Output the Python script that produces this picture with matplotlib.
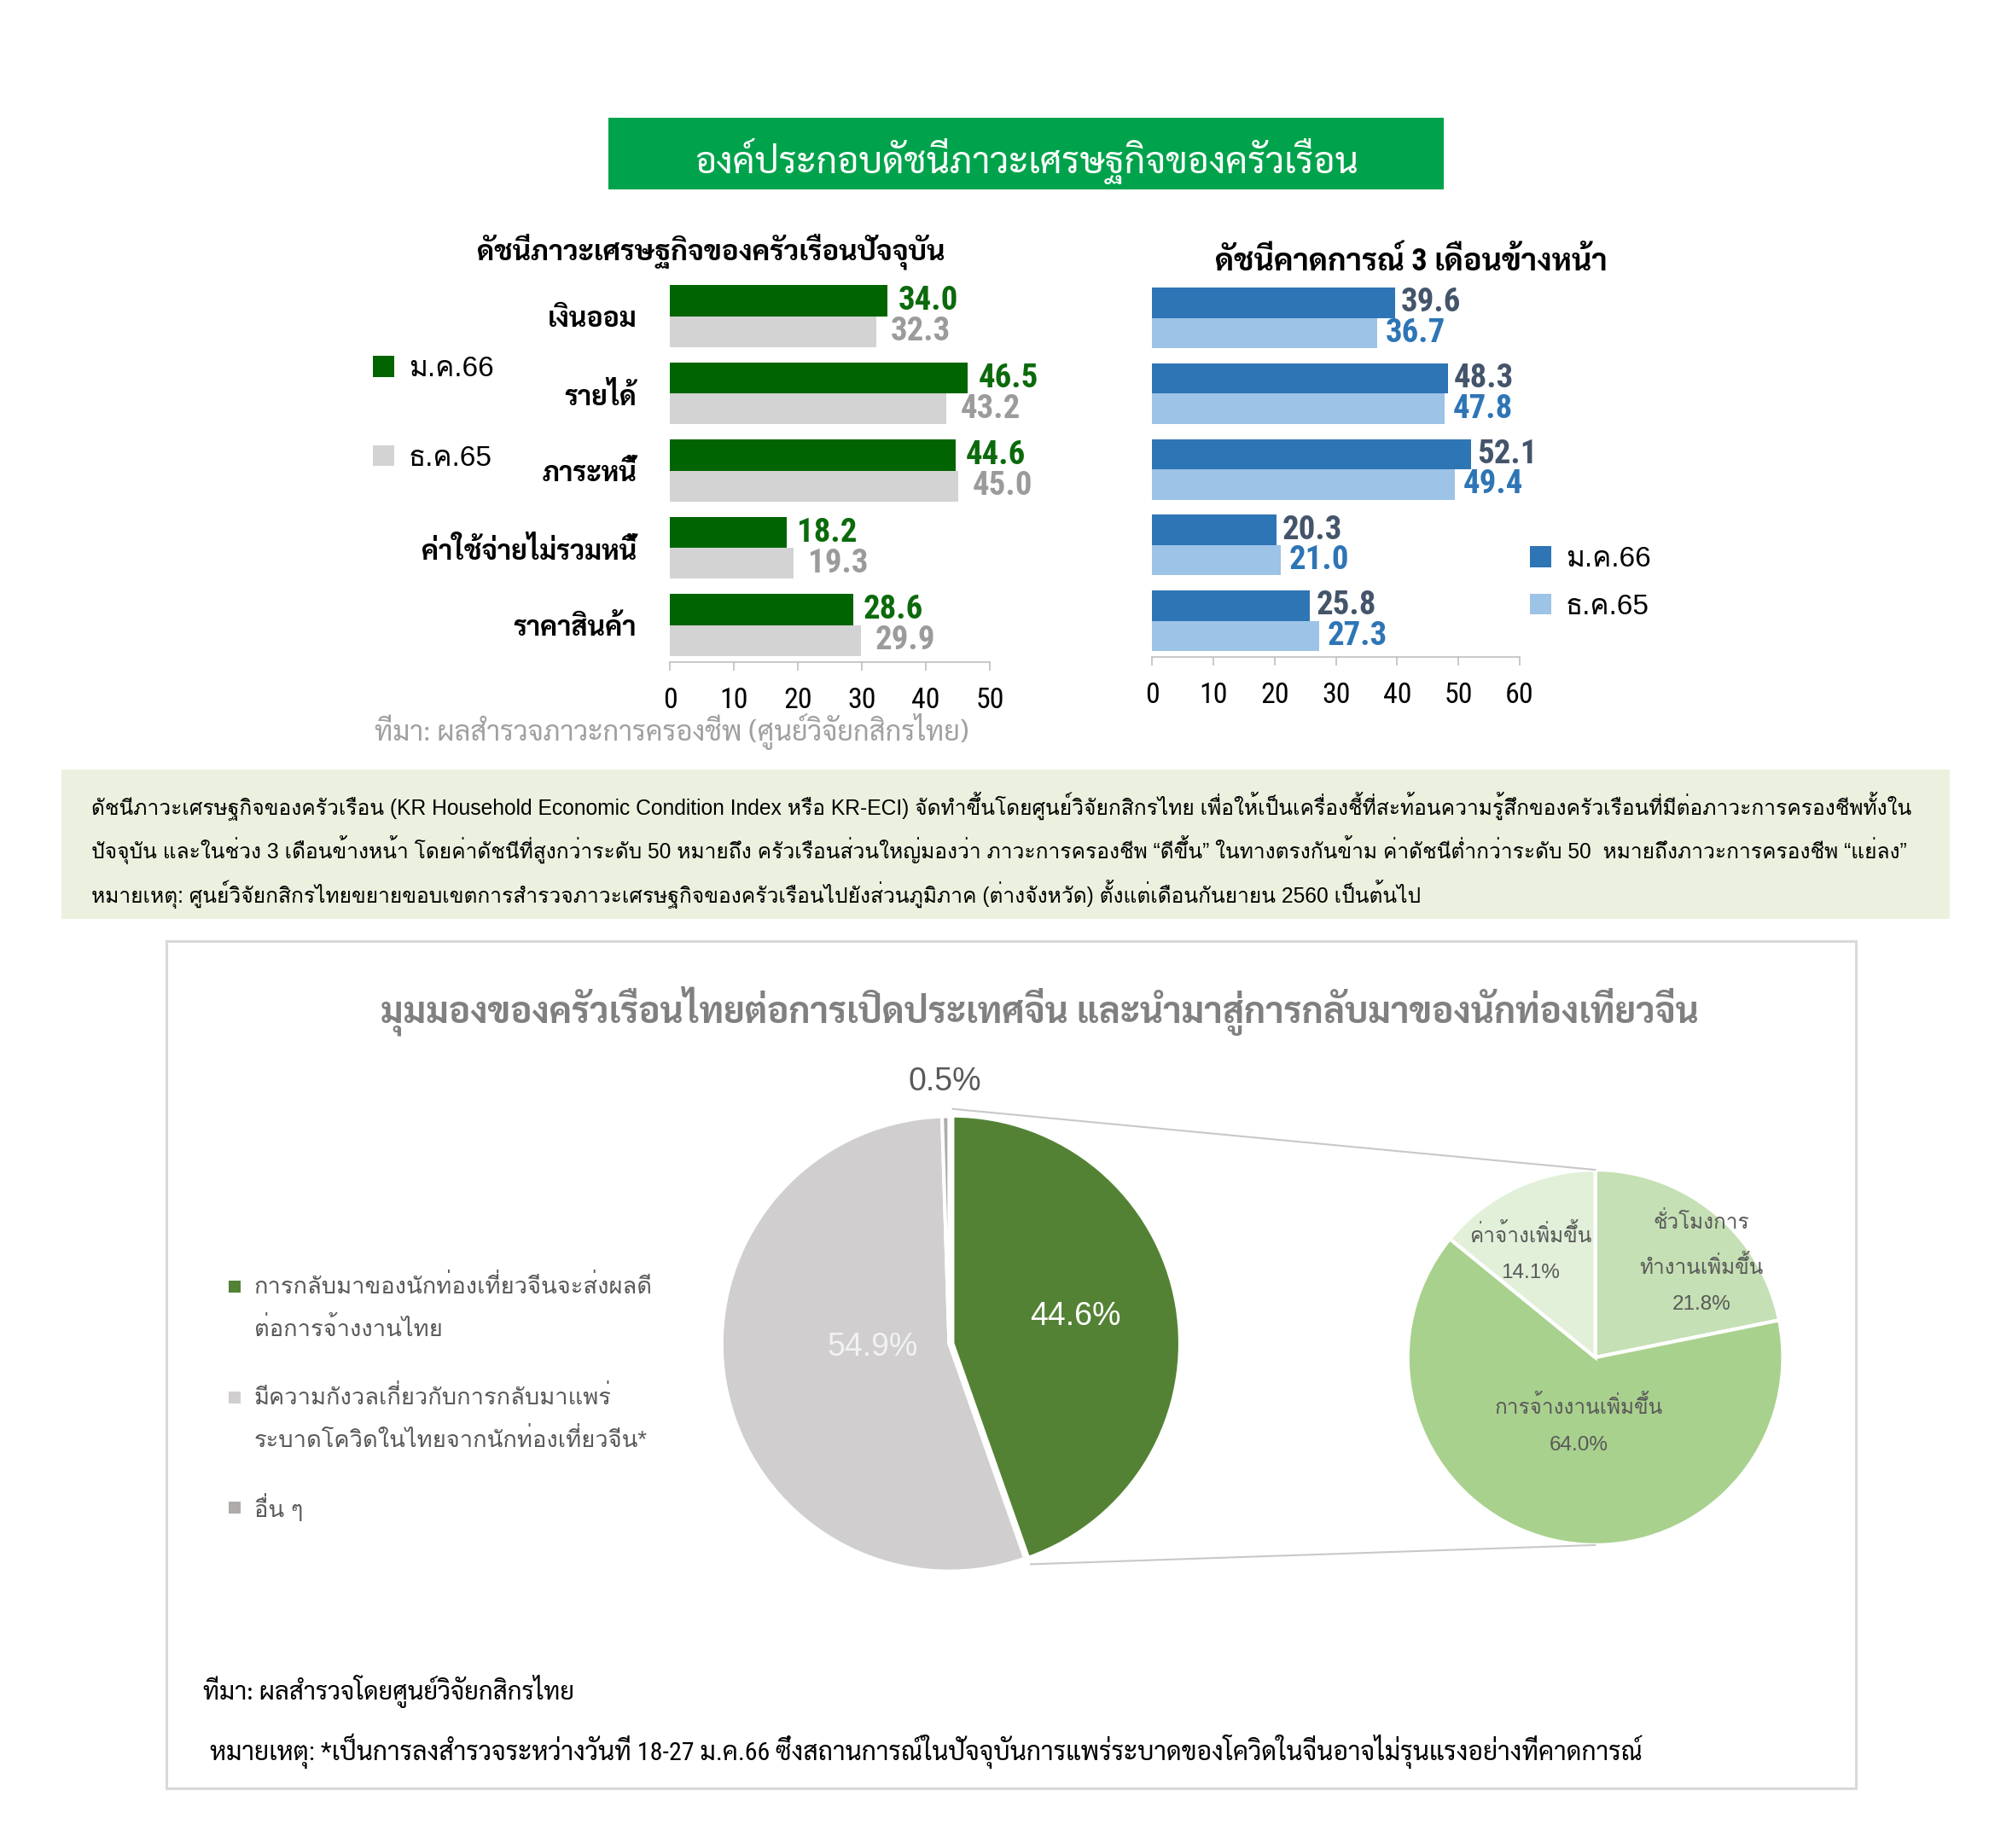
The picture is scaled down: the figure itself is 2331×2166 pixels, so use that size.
import matplotlib
matplotlib.use("Agg")
import matplotlib.pyplot as plt
from matplotlib.patches import Rectangle, ConnectionPatch
import numpy as np

# ---- data -------------------------------------------------------------
CATS = ["เงินออม", "รายได้", "ภาระหนี้", "ค่าใช้จ่ายไม่รวมหนี้", "ราคาสินค้า"]
SERIES = ["ม.ค.66", "ธ.ค.65"]
CUR_JAN66 = [34.0, 46.5, 44.6, 18.2, 28.6]
CUR_DEC65 = [32.3, 43.2, 45.0, 19.3, 29.9]
EXP_JAN66 = [39.6, 48.3, 52.1, 20.3, 25.8]
EXP_DEC65 = [36.7, 47.8, 49.4, 21.0, 27.3]
CUR_TICKS = [0, 10, 20, 30, 40, 50]
EXP_TICKS = [0, 10, 20, 30, 40, 50, 60]

VIEW_LABELS = ["การกลับมาของนักท่องเที่ยวจีนจะส่งผลดี\nต่อการจ้างงานไทย",
               "มีความกังวลเกี่ยวกับการกลับมาแพร่\nระบาดโควิดในไทยจากนักท่องเที่ยวจีน*",
               "อื่น ๆ"]
VIEW_SHARE = [44.6, 54.9, 0.5]
EFFECT_LABELS = ["ชั่วโมงการ\nทำงานเพิ่มขึ้น", "การจ้างงานเพิ่มขึ้น", "ค่าจ้างเพิ่มขึ้น"]
EFFECT_SHARE = [21.8, 64.0, 14.1]

TITLE = "องค์ประกอบดัชนีภาวะเศรษฐกิจของครัวเรือน"
CUR_TITLE = "ดัชนีภาวะเศรษฐกิจของครัวเรือนปัจจุบัน"
EXP_TITLE = "ดัชนีคาดการณ์ 3 เดือนข้างหน้า"
SOURCE_TOP = "ที่มา: ผลสำรวจภาวะการครองชีพ (ศูนย์วิจัยกสิกรไทย)"
NOTE_LINES = [
    "ดัชนีภาวะเศรษฐกิจของครัวเรือน (KR Household Economic Condition Index หรือ KR-ECI) จัดทำขึ้นโดยศูนย์วิจัยกสิกรไทย เพื่อให้เป็นเครื่องชี้ที่สะท้อนความรู้สึกของครัวเรือนที่มีต่อภาวะการครองชีพทั้งใน",
    "ปัจจุบัน และในช่วง 3 เดือนข้างหน้า โดยค่าดัชนีที่สูงกว่าระดับ 50 หมายถึง ครัวเรือนส่วนใหญ่มองว่า ภาวะการครองชีพ “ดีขึ้น” ในทางตรงกันข้าม ค่าดัชนีต่ำกว่าระดับ 50  หมายถึงภาวะการครองชีพ “แย่ลง”",
    "หมายเหตุ: ศูนย์วิจัยกสิกรไทยขยายขอบเขตการสำรวจภาวะเศรษฐกิจของครัวเรือนไปยังส่วนภูมิภาค (ต่างจังหวัด) ตั้งแต่เดือนกันยายน 2560 เป็นต้นไป",
]
PIE_TITLE = "มุมมองของครัวเรือนไทยต่อการเปิดประเทศจีน และนำมาสู่การกลับมาของนักท่องเที่ยวจีน"
SOURCE_BOTTOM = "ที่มา: ผลสำรวจโดยศูนย์วิจัยกสิกรไทย"
NOTE_BOTTOM = ("หมายเหตุ: *เป็นการลงสำรวจระหว่างวันที่ 18-27 ม.ค.66 "
               "ซึ่งสถานการณ์ในปัจจุบันการแพร่ระบาดของโควิดในจีนอาจไม่รุนแรงอย่างที่คาดการณ์")

# ---- style ------------------------------------------------------------
W, H, DPI = 2331, 2166, 100
S = 0.995                      # layout was measured on a slightly scaled view
COND = ["Liberation Sans Narrow", "Roboto Condensed", "Sarabun",
        "Noto Sans Thai Looped", "Loma", "DejaVu Sans"]
THAI = ["Sarabun", "Noto Sans Thai Looped", "Loma", "DejaVu Sans"]
UI = ["Liberation Sans", "Loma", "DejaVu Sans"]

BANNER = "#00a34b"
GREEN, GREEN_LBL, GREY_BAR, GREY_LBL = "#006400", "#0b6a0b", "#d3d3d3", "#9b9b9b"
BLUE, BLUE_LT, BLUE_LBL, SLATE_LBL = "#2e75b6", "#9dc3e6", "#2e75b6", "#44546a"
AXIS = "#bfbfbf"
NOTE_BG = "#ebf1de"
PANEL = "#d9d9d9"
VIEW_COLORS = ["#548235", "#d0cece", "#afabab"]
EFFECT_COLORS = ["#c5e0b4", "#a9d18e", "#e2f0d9"]
DARK_TXT = "#595959"


def fx(x):
    return x * S / W


def fy(y):
    return 1 - y * S / H


def box(x0, y0, x1, y1):
    """Pixel box (top-left origin) -> figure fraction rect."""
    return [fx(x0), fy(y1), fx(x1) - fx(x0), fy(y0) - fy(y1)]


def fig_rect(x0, y0, x1, y1, **kw):
    l, b, w, h = box(x0, y0, x1, y1)
    fig.patches.append(Rectangle((l, b), w, h, transform=fig.transFigure, **kw))


fig = plt.figure(figsize=(W / DPI, H / DPI), dpi=DPI, facecolor="white")


def index_bars(rect, ticks, jan, dec, colors, lbl_colors, pads, show_cats):
    ax = fig.add_axes(rect)
    y = np.arange(len(CATS))
    b1 = ax.barh(y - 0.2, jan, height=0.4, color=colors[0], label=SERIES[0])
    b2 = ax.barh(y + 0.2, dec, height=0.4, color=colors[1], label=SERIES[1])
    for yi, a, b in zip(y, jan, dec):
        ax.annotate(f"{a:.1f}", (a, yi - 0.2), xytext=(pads[0], 0),
                    textcoords="offset points", va="center", ha="left",
                    fontsize=28, fontweight="bold", color=lbl_colors[0],
                    family=COND, annotation_clip=False)
        ax.annotate(f"{b:.1f}", (b, yi + 0.2), xytext=(pads[1], 0),
                    textcoords="offset points", va="center", ha="left",
                    fontsize=28, fontweight="bold", color=lbl_colors[1],
                    family=COND, annotation_clip=False)
    ax.set_xlim(ticks[0], ticks[-1])
    ax.set_xticks(ticks)
    ax.set_ylim(4.48, -0.5)
    ax.set_yticks(y)
    if show_cats:
        ax.set_yticklabels(CATS, fontsize=23, fontweight="bold", family=COND)
    else:
        ax.set_yticklabels([])
    ax.tick_params(axis="y", length=0, pad=28)
    ax.tick_params(axis="x", direction="out", length=7, width=1.2, color=AXIS,
                   pad=14, labelsize=24.5, labelcolor="black")
    for lab in ax.get_xticklabels():
        lab.set_family(COND)
    for s in ("top", "right", "left"):
        ax.spines[s].set_visible(False)
    ax.spines["bottom"].set_color(AXIS)
    ax.spines["bottom"].set_linewidth(1.2)
    ax.set_facecolor("none")
    return ax, (b1, b2)


# ---- top section ------------------------------------------------------
fig_rect(717, 139, 1700, 223, color=BANNER, lw=0)
fig.text(fx(1209), fy(190), TITLE, ha="center", va="center", fontsize=31,
         color="white", family=THAI)

fig.text(fx(838), fy(296), CUR_TITLE, ha="center", va="center", fontsize=23.8,
         fontweight="bold", family=THAI)
fig.text(fx(1662), fy(309), EXP_TITLE, ha="center", va="center", fontsize=26,
         fontweight="bold", family=COND)

ax_cur, h_cur = index_bars(box(789, 327, 1166, 780), CUR_TICKS, CUR_JAN66, CUR_DEC65,
                           (GREEN, GREY_BAR), (GREEN_LBL, GREY_LBL), (9, 12), True)
ax_exp, h_exp = index_bars(box(1357, 330, 1790, 774), EXP_TICKS, EXP_JAN66, EXP_DEC65,
                           (BLUE, BLUE_LT), (SLATE_LBL, BLUE_LBL), (5, 7), False)

fig.legend(h_cur, SERIES, loc="upper left", bbox_to_anchor=(fx(426), fy(406)),
           frameon=False, prop={"family": UI, "size": 24}, handlelength=0.75,
           handleheight=0.75, handletextpad=0.5, labelspacing=2.2, borderaxespad=0)
fig.legend(h_exp, SERIES, loc="upper left", bbox_to_anchor=(fx(1789), fy(630)),
           frameon=False, prop={"family": UI, "size": 24}, handlelength=0.75,
           handleheight=0.75, handletextpad=0.5, labelspacing=0.74, borderaxespad=0)

fig.text(fx(441), fy(862), SOURCE_TOP, ha="left", va="center", fontsize=23.5,
         color="#a0a0a0", family=THAI)

# ---- definition box ---------------------------------------------------
fig_rect(72, 907, 2296, 1082, color=NOTE_BG, lw=0)
for i, line in enumerate(NOTE_LINES):
    fig.text(fx(108), fy(950 + 51.5 * i), line, ha="left", va="center",
             fontsize=17.7, color="black", family=UI)

# ---- pie panel --------------------------------------------------------
fig_rect(196, 1109, 2186, 2107, fill=False, ec=PANEL, lw=2.2)
fig.text(fx(1225), fy(1191), PIE_TITLE, ha="center", va="center", fontsize=30.3,
         fontweight="bold", color="#808080", family=THAI)

R = 1.05
ax_big = fig.add_axes(box(1118 - 268 * R, 1583 - 268 * R, 1118 + 268 * R, 1583 + 268 * R))
w_big, _ = ax_big.pie(VIEW_SHARE, colors=VIEW_COLORS, startangle=90, counterclock=False,
                      explode=[0.015, 0, 0],
                      wedgeprops=dict(edgecolor="white", linewidth=3))
ax_big.set_xlim(-R, R)
ax_big.set_ylim(-R, R)
big_dist = [0.566, 0.336, 1.15]
big_turn = [2.5, -8.0, 0.0]
big_col = ["white", "#f2f2f2", DARK_TXT]
for w, v, d, t, c in zip(w_big, VIEW_SHARE, big_dist, big_turn, big_col):
    ang = np.deg2rad((w.theta1 + w.theta2) / 2 + t)
    ax_big.text(d * np.cos(ang), d * np.sin(ang), f"{v:.1f}%", ha="center",
                va="center", fontsize=27, color=c, family=UI)

ax_small = fig.add_axes(box(1879 - 221 * R, 1599 - 221 * R, 1879 + 221 * R, 1599 + 221 * R))
w_small, _ = ax_small.pie(EFFECT_SHARE, colors=EFFECT_COLORS, startangle=90,
                          counterclock=False,
                          wedgeprops=dict(edgecolor="white", linewidth=3))
ax_small.set_xlim(-R, R)
ax_small.set_ylim(-R, R)
small_dist = [0.758, 0.37, 0.654]
small_turn = [-9.0, 0.0, 6.3]
for w, lab, v, d, t in zip(w_small, EFFECT_LABELS, EFFECT_SHARE, small_dist, small_turn):
    ang = np.deg2rad((w.theta1 + w.theta2) / 2 + t)
    ax_small.text(d * np.cos(ang), d * np.sin(ang), f"{lab}\n{v:.1f}%", ha="center",
                  va="center", fontsize=17.5, color=DARK_TXT, family=UI,
                  linespacing=2.2)

# connectors from the exploded slice to the breakdown pie, set just off the rim
g = w_big[0]
for ang, yb in ((g.theta2, 1), (g.theta1, -1)):
    a = np.deg2rad(ang)
    xa = g.center[0] + 1.03 * g.r * np.cos(a)
    ya = g.center[1] + 1.03 * g.r * np.sin(a)
    fig.add_artist(ConnectionPatch((xa, ya), (0, yb), coordsA=ax_big.transData,
                                   coordsB=ax_small.transData, color="#c8c8c8", lw=1.5))

# legend of the main pie
for i, (lab, col) in enumerate(zip(VIEW_LABELS, VIEW_COLORS)):
    ytop = 1516 + 130 * i
    fig_rect(269, ytop - 7, 283, ytop + 7, color=col, lw=0)
    for j, part in enumerate(lab.split("\n")):
        fig.text(fx(299), fy(ytop + 50 * j), part, ha="left", va="center",
                 fontsize=19.7, color=DARK_TXT, family=UI)

fig.text(fx(239), fy(1992), SOURCE_BOTTOM, ha="left", va="center", fontsize=21.1,
         color="black", family=THAI)
fig.text(fx(247), fy(2063), NOTE_BOTTOM, ha="left", va="center", fontsize=21.6,
         color="black", family=COND)

fig.savefig("out.png", dpi=DPI, facecolor="white")
